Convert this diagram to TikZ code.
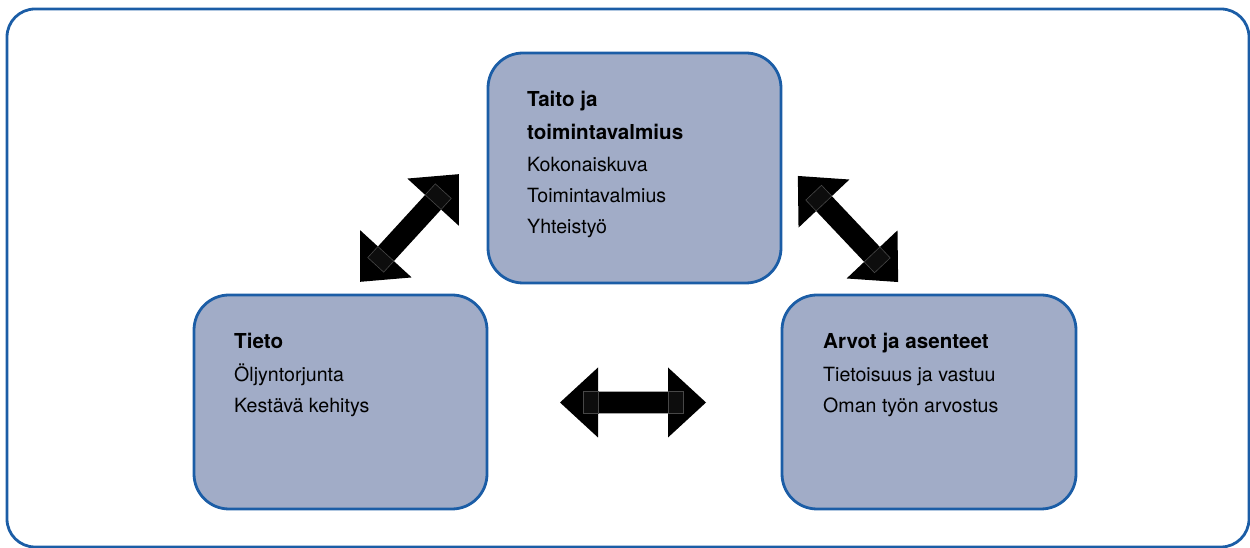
\documentclass[tikz,border=0pt]{standalone}
\usepackage{fontspec}
\setmainfont{TeX Gyre Heros}
\definecolor{frameblue}{HTML}{1B5DA6}
\definecolor{boxfill}{HTML}{A1ACC7}
\begin{document}
\begin{tikzpicture}[x=1pt,y=1pt,
  panel/.style={draw=frameblue, line width=2.8pt, fill=boxfill,
    rounded corners=35pt, minimum width=293pt, minimum height=214pt,
    inner sep=0pt},
  heading/.style={anchor=base west, inner sep=0pt,
    font=\fontsize{20.6}{24}\selectfont\bfseries},
  item/.style={anchor=base west, inner sep=0pt,
    font=\fontsize{19.6}{23}\selectfont},
  blockarrow/.pic={
    \fill[black] (-73,0) -- (-35,35) -- (-35,10.8) -- (35,10.8) -- (35,35)
      -- (73,0) -- (35,-35) -- (35,-10.8) -- (-35,-10.8) -- (-35,-35) -- cycle;
    \filldraw[fill=black!95, draw=black!72, line width=0.6pt]
      (-50,-10.8) rectangle (-35,10.8) (35,-10.8) rectangle (50,10.8);
  }]
\useasboundingbox (0,0) rectangle (1250,548);

% outer frame
\draw[frameblue, line width=2.8pt, rounded corners=28pt] (7,1) rectangle (1249,539);

% the three panels
\node[panel, minimum height=230pt] (skill) at (634.5,380) {};
\node[panel] (know) at (340.5,146) {};
\node[panel, minimum width=294pt] (value) at (929,146) {};

% panel texts
\node[heading] (skillA) at (527,441) {Taito ja};
\node[heading] (skillB) at (527,408) {toimintavalmius};
\node[item] (skill1) at (527,376) {Kokonaiskuva};
\node[item] (skill2) at (527,345) {Toimintavalmius};
\node[item] (skill3) at (527,314) {Yhteistyö};

\node[heading] (knowA) at (234,199) {Tieto};
\node[item] (know1) at (234,166) {Öljyntorjunta};
\node[item] (know2) at (234,135) {Kestävä kehitys};

\node[heading] (valueA) at (823,199) {Arvot ja asenteet};
\node[item] (value1) at (823,166) {Tietoisuus ja vastuu};
\node[item] (value2) at (823,135) {Oman työn arvostus};

% two-headed block arrows between the panels
\coordinate (linkKS) at (409.5,320);
\coordinate (linkSV) at (848,319);
\coordinate (linkKV) at (633,145.5);
\pic[rotate=47.5] at (linkKS) {blockarrow};
\pic[rotate=-46.6] at (linkSV) {blockarrow};
\pic at (linkKV) {blockarrow};
\end{tikzpicture}
\end{document}
